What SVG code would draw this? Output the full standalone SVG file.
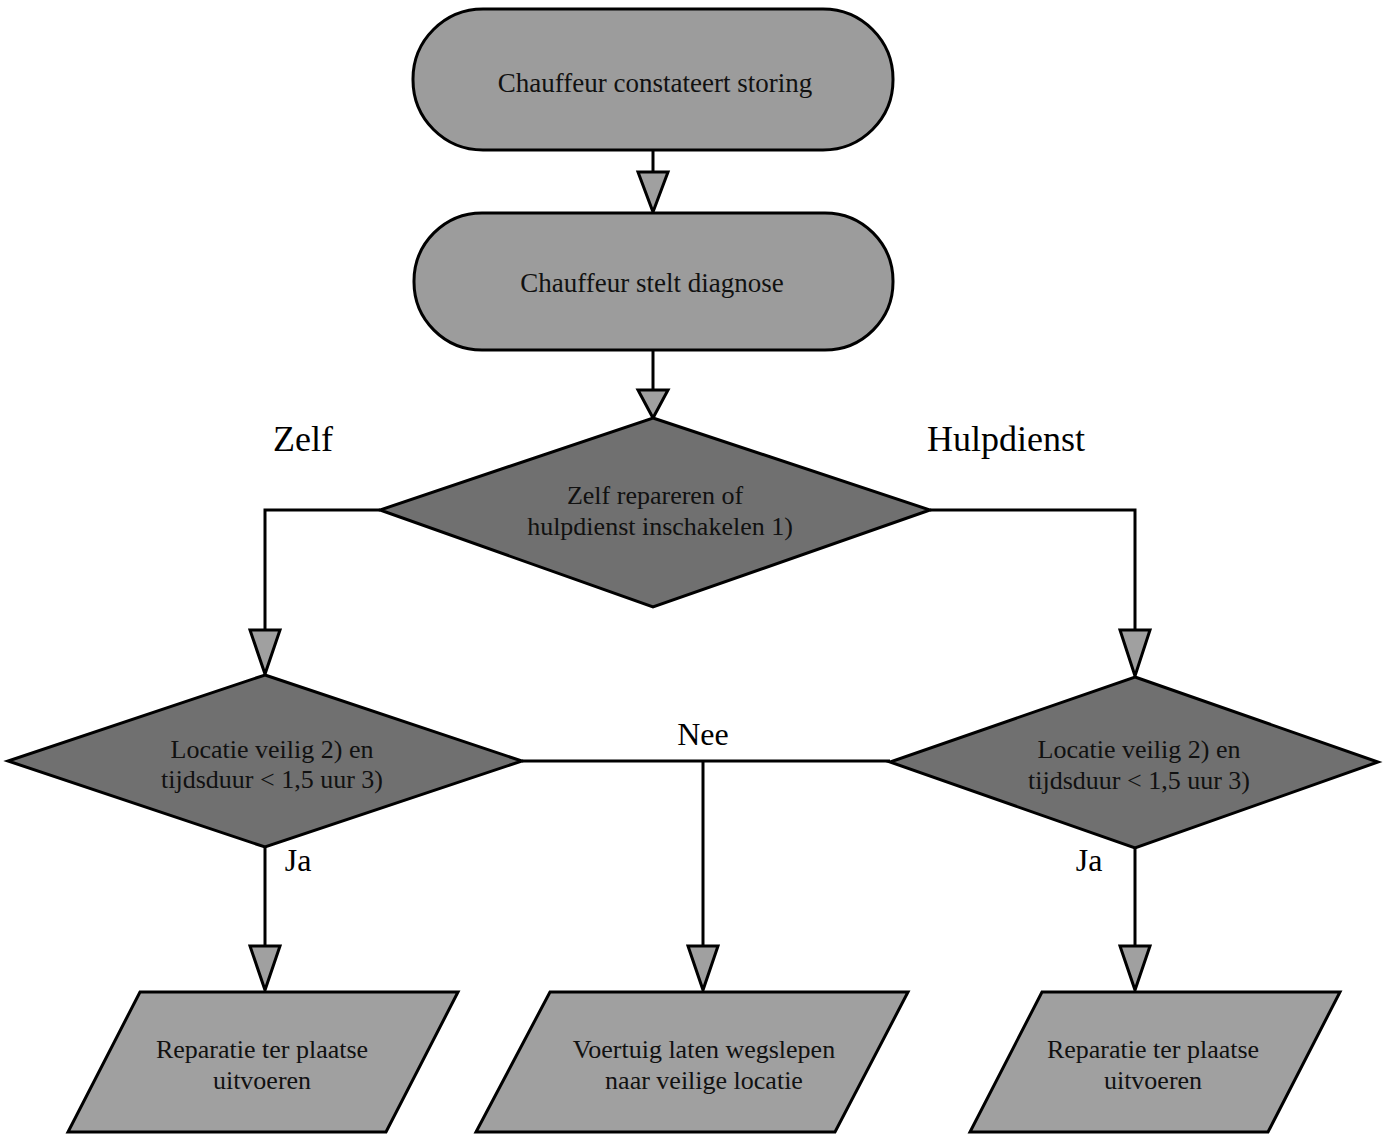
<svg xmlns="http://www.w3.org/2000/svg" width="1386" height="1134" viewBox="0 0 1386 1134">
<style>
.term{fill:#9c9c9c;stroke:#000;stroke-width:3}
.dec{fill:#707070;stroke:#000;stroke-width:3}
.io{fill:#a0a0a0;stroke:#000;stroke-width:3}
.lbl{font-family:"Liberation Serif",serif;font-size:26px;fill:#111;text-anchor:middle}
.t1{font-size:27px}
.big{font-family:"Liberation Serif",serif;font-size:36px;fill:#000;text-anchor:middle}
.ja{font-family:"Liberation Serif",serif;font-size:32px;fill:#000;text-anchor:middle}
.ln{fill:none;stroke:#000;stroke-width:3}
.ah{fill:#a0a0a0;stroke:#000;stroke-width:3;stroke-linejoin:miter}
</style>
<rect width="1386" height="1134" fill="#fff"/>
<g id="connectors">
<line class="ln" x1="653" y1="150" x2="653" y2="172"/>
<polygon class="ah" points="638,172 668,172 653,212"/>
<line class="ln" x1="653" y1="350" x2="653" y2="390"/>
<polygon class="ah" points="638,390 668,390 653,418"/>
<polyline class="ln" points="380,510 265,510 265,630"/>
<polygon class="ah" points="250,630 280,630 265,674"/>
<polyline class="ln" points="930,510 1135,510 1135,630"/>
<polygon class="ah" points="1120,630 1150,630 1135,676"/>
<line class="ln" x1="522" y1="761" x2="890" y2="761"/>
<line class="ln" x1="703" y1="761" x2="703" y2="946"/>
<polygon class="ah" points="688,946 718,946 703,990"/>
<line class="ln" x1="265" y1="847" x2="265" y2="946"/>
<polygon class="ah" points="250,946 280,946 265,990"/>
<line class="ln" x1="1135" y1="848" x2="1135" y2="946"/>
<polygon class="ah" points="1120,946 1150,946 1135,990"/>
<text class="big" x="303" y="451">Zelf</text>
<text class="big" x="1006" y="451">Hulpdienst</text>
<text class="ja" x="703" y="745">Nee</text>
<text class="ja" x="298" y="871">Ja</text>
<text class="ja" x="1089" y="871">Ja</text>
</g>
<g id="n1">
<rect class="term" x="413" y="9" width="480" height="141" rx="70" ry="70"/>
<text class="lbl t1" x="655" y="92">Chauffeur constateert storing</text>
</g>
<g id="n2">
<rect class="term" x="414" y="213" width="479" height="137" rx="68" ry="68"/>
<text class="lbl t1" x="652" y="292">Chauffeur stelt diagnose</text>
</g>
<g id="d1">
<polygon class="dec" points="653,418 930,510 653,607 380,510"/>
<text class="lbl" x="655" y="504">Zelf repareren of</text>
<text class="lbl" x="660" y="535">hulpdienst inschakelen 1)</text>
</g>
<g id="d2">
<polygon class="dec" points="265,675 522,761 265,847 8,761"/>
<text class="lbl" x="272" y="758">Locatie veilig 2) en</text>
<text class="lbl" x="272" y="788">tijdsduur &lt; 1,5 uur 3)</text>
</g>
<g id="d3">
<polygon class="dec" points="1135,677 1378,762 1135,848 890,762"/>
<text class="lbl" x="1139" y="758">Locatie veilig 2) en</text>
<text class="lbl" x="1139" y="789">tijdsduur &lt; 1,5 uur 3)</text>
</g>
<g id="p1">
<polygon class="io" points="140,992 458,992 386,1132 68,1132"/>
<text class="lbl" x="262" y="1058">Reparatie ter plaatse</text>
<text class="lbl" x="262" y="1089">uitvoeren</text>
</g>
<g id="p2">
<polygon class="io" points="550,992 908,992 835,1132 476,1132"/>
<text class="lbl" x="704" y="1058">Voertuig laten wegslepen</text>
<text class="lbl" x="704" y="1089">naar veilige locatie</text>
</g>
<g id="p3">
<polygon class="io" points="1042,992 1340,992 1268,1132 970,1132"/>
<text class="lbl" x="1153" y="1058">Reparatie ter plaatse</text>
<text class="lbl" x="1153" y="1089">uitvoeren</text>
</g>
</svg>
